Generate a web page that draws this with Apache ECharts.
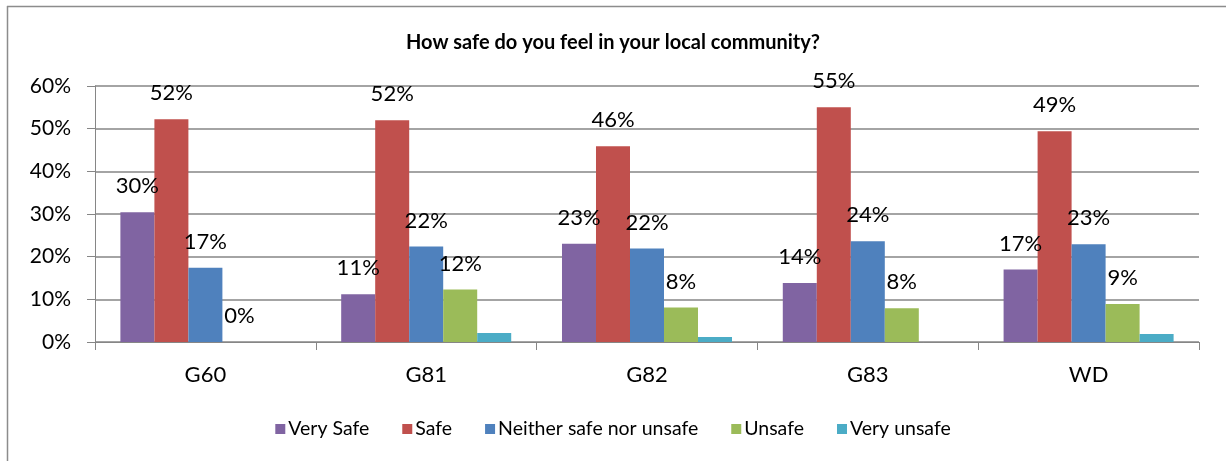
<!DOCTYPE html>
<html>
<head>
<meta charset="utf-8">
<script src="https://cdn.jsdelivr.net/npm/echarts@6/dist/echarts.min.js"></script>
<style>
  html, body { margin: 0; padding: 0; background: #fff; }
  #chart { width: 1226px; height: 461px; }
</style>
</head>
<body>
<div id="chart"></div>
<script>
// Survey answers per area, in percent
const categories = ['G60', 'G81', 'G82', 'G83', 'WD'];
const seriesNames = ['Very Safe', 'Safe', 'Neither safe nor unsafe', 'Unsafe', 'Very unsafe'];
const verySafe = [30.4, 11.2, 23.0, 13.8, 17.0];
const safe = [52.2, 52.0, 45.9, 55.0, 49.4];
const neither = [17.4, 22.4, 21.9, 23.6, 22.9];
const unsafe = [0, 12.3, 8.1, 7.9, 8.9];
const veryUnsafe = [null, 2.1, 1.2, null, 1.9];
const yTicks = [0, 10, 20, 30, 40, 50, 60];

const colors = ['#8064A2', '#C0504D', '#4F81BD', '#9BBB59', '#4BACC6'];
const values = [verySafe, safe, neither, unsafe, veryUnsafe];
const labelled = [true, true, true, true, false];
const font = 'Lato, "Noto Sans", sans-serif';
const gridColor = '#868686';

const chart = echarts.init(document.getElementById('chart'), null, { renderer: 'canvas' });

chart.setOption({
  animation: false,
  color: colors,
  textStyle: { fontFamily: font },
  title: {
    text: 'How safe do you feel in your local community?',
    left: 'center',
    top: 28,
    textStyle: { fontFamily: font, fontSize: 20, fontWeight: 'bold', color: '#000' }
  },
  legend: {
    data: seriesNames,
    bottom: 17,
    left: 'center',
    icon: 'rect',
    itemWidth: 10,
    itemHeight: 10,
    itemGap: 33,
    textStyle: { fontFamily: font, fontSize: 19.5, color: '#000', padding: [0, 0, 0, -2] }
  },
  grid: { left: 95, right: 27, top: 86, bottom: 119, containLabel: false },
  xAxis: {
    type: 'category',
    data: categories,
    axisLine: { lineStyle: { color: gridColor, width: 1 } },
    axisTick: { show: true, alignWithLabel: false, length: 8, lineStyle: { color: gridColor } },
    axisLabel: { fontFamily: font, fontSize: 22, color: '#000', margin: 22 }
  },
  yAxis: {
    type: 'value',
    min: yTicks[0],
    max: yTicks[yTicks.length - 1],
    interval: 10,
    axisLine: { show: true, lineStyle: { color: gridColor, width: 1 } },
    axisTick: { show: true, inside: false, length: 8, lineStyle: { color: gridColor } },
    splitLine: { lineStyle: { color: gridColor, width: 1.5 } },
    axisLabel: { fontFamily: font, fontSize: 21, color: '#000', margin: 24, formatter: '{value}%' }
  },
  graphic: [
    { type: 'line', shape: { x1: 7.5, y1: 6, x2: 7.5, y2: 461 }, style: { stroke: '#8c8c8c', lineWidth: 1.5 } },
    { type: 'line', shape: { x1: 7, y1: 6.5, x2: 1226, y2: 6.5 }, style: { stroke: '#8c8c8c', lineWidth: 1.5 } }
  ],
  series: seriesNames.map((name, i) => ({
    name: name,
    type: 'bar',
    data: values[i],
    barGap: '0%',
    barCategoryGap: '23%',
    itemStyle: { color: colors[i] },
    label: {
      show: labelled[i],
      position: 'top',
      distance: 15,
      fontFamily: font,
      fontSize: 22,
      color: '#000',
      formatter: p => (p.value == null ? '' : Math.round(p.value) + '%')
    }
  }))
});
</script>
</body>
</html>
